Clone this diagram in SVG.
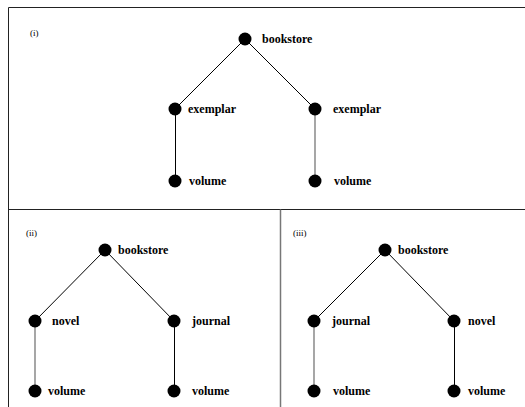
<svg xmlns="http://www.w3.org/2000/svg" width="525" height="407" viewBox="0 0 525 407">
<style>
.frame{stroke:#222;stroke-width:1;fill:none}
.div{stroke:#777;stroke-width:1.5;fill:none}
.edge{stroke:#000;stroke-width:1;fill:none}
.edge.g{stroke:#777;stroke-width:1.3}
.dot{fill:#000}
.lbl{font-family:"Liberation Serif",serif;font-weight:bold;font-size:12px;fill:#000}
.tag{font-family:"Liberation Serif",serif;font-size:9px;fill:#000}
</style>
<rect width="525" height="407" fill="#fff"/>
<g id="frames">
<line class="frame" x1="8.5" y1="7.5" x2="525" y2="7.5"/>
<line class="frame" x1="8.5" y1="7.5" x2="8.5" y2="407"/>
<line class="frame" x1="8.5" y1="209.5" x2="525" y2="209.5"/>
<line class="div" x1="280.5" y1="209.5" x2="280.5" y2="407"/>
</g>
<g id="tags">
<text class="tag" x="30" y="36">(i)</text>
<text class="tag" x="26" y="236">(ii)</text>
<text class="tag" x="293" y="236">(iii)</text>
</g>
<g id="connectors">
<line class="edge" x1="245" y1="39" x2="175" y2="109"/>
<line class="edge" x1="245" y1="39" x2="315" y2="109"/>
<line class="edge" x1="175.5" y1="109" x2="175.5" y2="181"/>
<line class="edge g" x1="315" y1="109" x2="315" y2="181"/>
<line class="edge" x1="105" y1="250" x2="35" y2="321"/>
<line class="edge" x1="105" y1="250" x2="174" y2="321"/>
<line class="edge g" x1="35" y1="321" x2="35" y2="391"/>
<line class="edge" x1="174.5" y1="321" x2="174.5" y2="391"/>
<line class="edge" x1="385" y1="250" x2="314" y2="321"/>
<line class="edge" x1="385" y1="250" x2="454" y2="321"/>
<line class="edge g" x1="314" y1="321" x2="314" y2="391"/>
<line class="edge" x1="454.5" y1="321" x2="454.5" y2="391"/>
</g>
<g id="n1-bookstore"><circle class="dot" cx="245" cy="39" r="6.5"/><text class="lbl" x="262" y="43">bookstore</text></g>
<g id="n1-exemplar-l"><circle class="dot" cx="175" cy="109" r="6.5"/><text class="lbl" x="188" y="113">exemplar</text></g>
<g id="n1-exemplar-r"><circle class="dot" cx="315" cy="109" r="6.5"/><text class="lbl" x="333" y="113">exemplar</text></g>
<g id="n1-volume-l"><circle class="dot" cx="175" cy="181" r="6.5"/><text class="lbl" x="189" y="185">volume</text></g>
<g id="n1-volume-r"><circle class="dot" cx="315" cy="181" r="6.5"/><text class="lbl" x="334" y="185">volume</text></g>
<g id="n2-bookstore"><circle class="dot" cx="105" cy="250" r="6.5"/><text class="lbl" x="118" y="254">bookstore</text></g>
<g id="n2-novel"><circle class="dot" cx="35" cy="321" r="6.5"/><text class="lbl" x="52" y="325">novel</text></g>
<g id="n2-journal"><circle class="dot" cx="174" cy="321" r="6.5"/><text class="lbl" x="192" y="325">journal</text></g>
<g id="n2-volume-l"><circle class="dot" cx="35" cy="391" r="6.5"/><text class="lbl" x="48" y="395">volume</text></g>
<g id="n2-volume-r"><circle class="dot" cx="174" cy="391" r="6.5"/><text class="lbl" x="192" y="395">volume</text></g>
<g id="n3-bookstore"><circle class="dot" cx="385" cy="250" r="6.5"/><text class="lbl" x="398" y="254">bookstore</text></g>
<g id="n3-journal"><circle class="dot" cx="314" cy="321" r="6.5"/><text class="lbl" x="332" y="325">journal</text></g>
<g id="n3-novel"><circle class="dot" cx="454" cy="321" r="6.5"/><text class="lbl" x="468" y="325">novel</text></g>
<g id="n3-volume-l"><circle class="dot" cx="314" cy="391" r="6.5"/><text class="lbl" x="333" y="395">volume</text></g>
<g id="n3-volume-r"><circle class="dot" cx="454" cy="391" r="6.5"/><text class="lbl" x="468" y="395">volume</text></g>
</svg>
